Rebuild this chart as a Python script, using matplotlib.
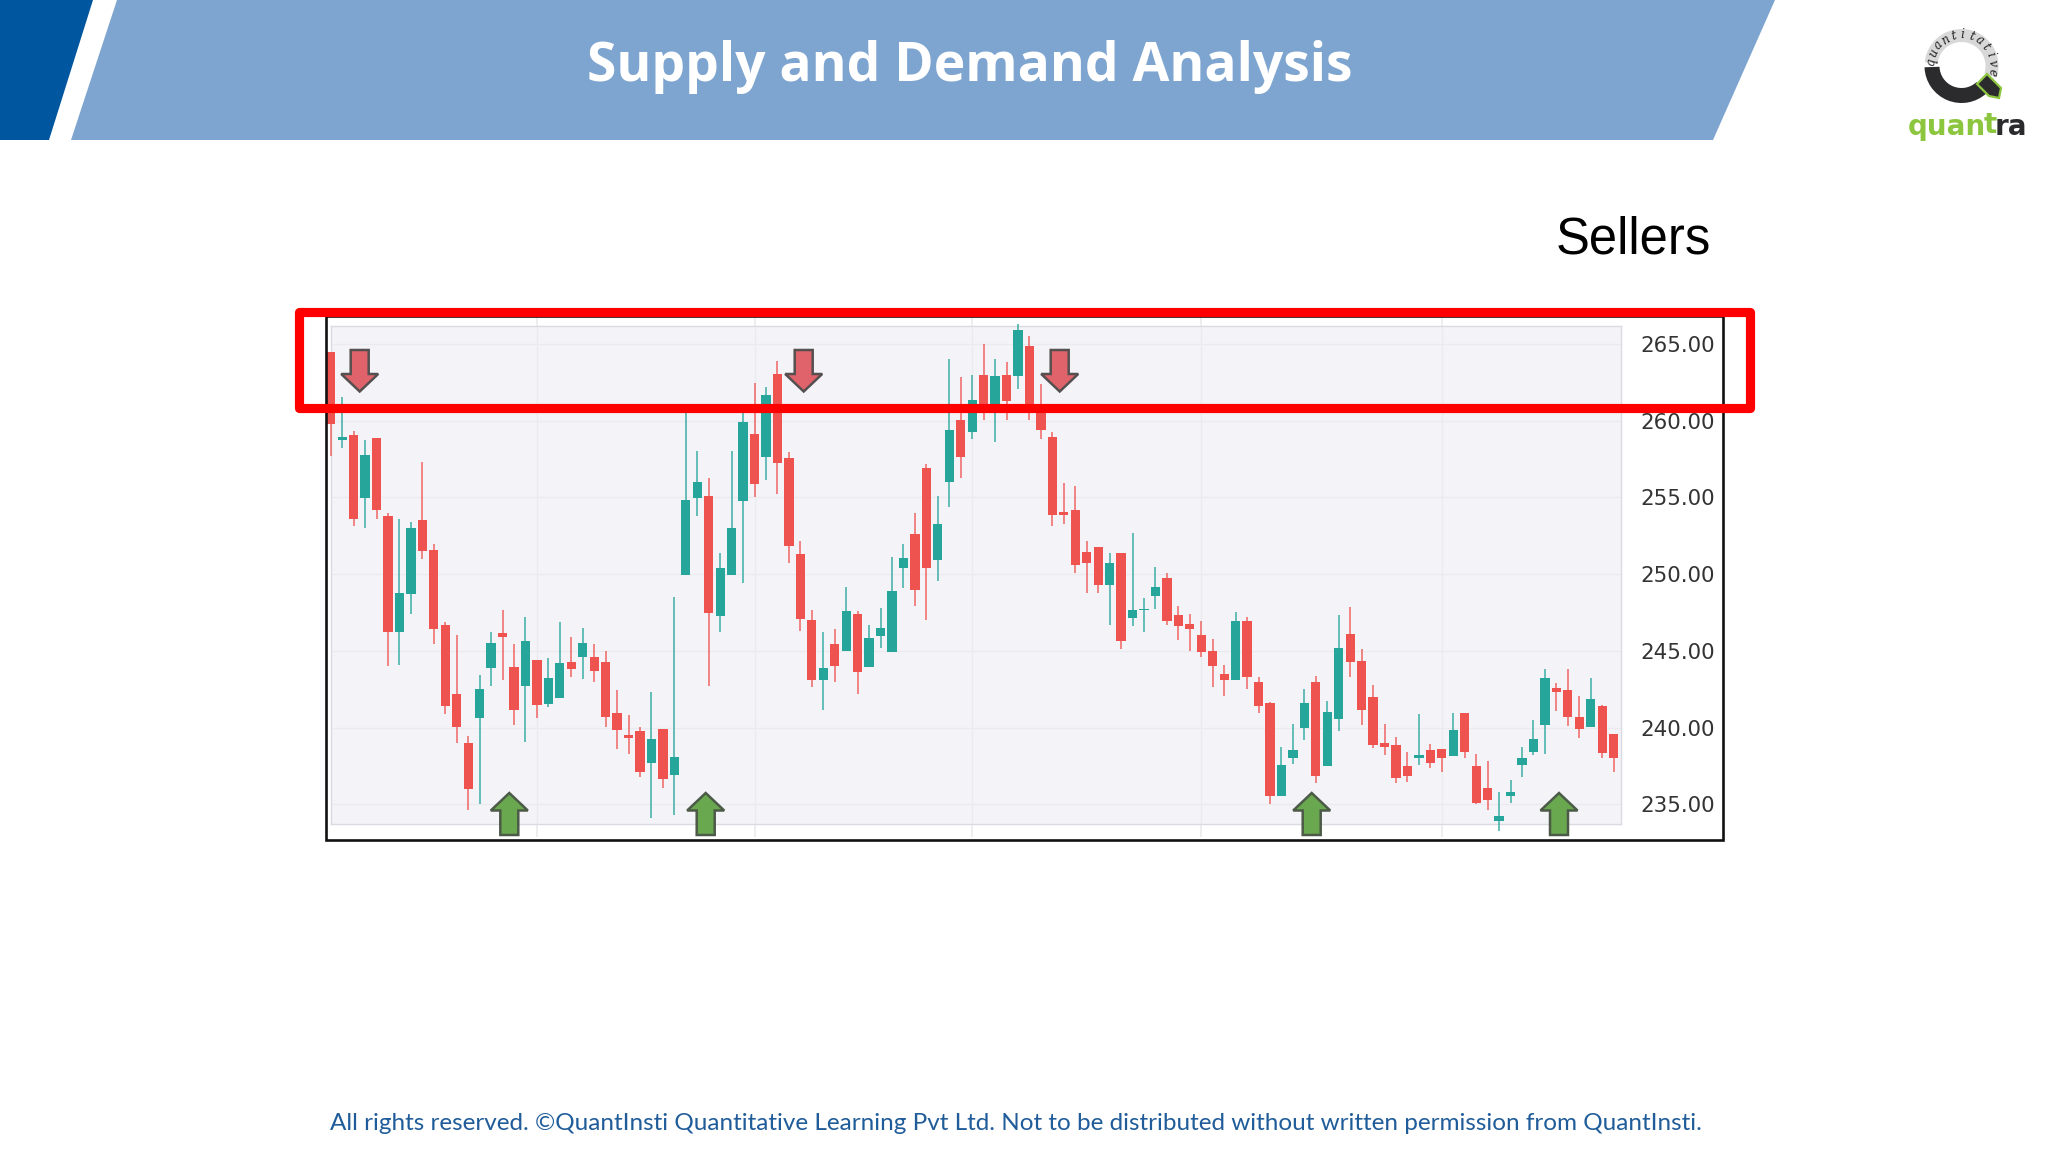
import numpy as np
import matplotlib
matplotlib.use("Agg")
import matplotlib.pyplot as plt
from matplotlib.patches import Polygon, Rectangle, Wedge

# ── Candle data ──────────────────────────────────────────────
opens = [
    264.47, 258.77, 259.07, 254.95, 258.86, 253.80, 246.24, 248.74, 253.55, 251.59,
    246.70, 242.19, 238.97, 240.63, 243.91, 246.15, 243.94, 242.72, 244.42, 241.55,
    241.96, 244.28, 244.58, 244.63, 244.31, 240.97, 239.50, 239.80, 237.69, 239.94,
    236.93, 249.98, 254.95, 255.11, 247.30, 249.98, 254.75, 259.14, 257.64, 263.02,
    257.55, 251.34, 247.00, 243.13, 245.46, 245.00, 247.41, 243.94, 245.96, 244.93,
    250.40, 252.65, 256.93, 250.93, 255.98, 260.03, 259.29, 263.00, 261.09, 263.00,
    262.89, 264.86, 260.98, 258.91, 254.08, 254.21, 251.46, 251.76, 249.27, 251.39,
    247.14, 247.68, 248.61, 249.74, 247.32, 246.77, 246.01, 244.97, 243.50, 243.13,
    246.98, 242.97, 241.60, 235.55, 238.03, 239.96, 242.97, 237.48, 240.58, 246.08,
    244.37, 242.01, 238.97, 238.88, 237.52, 237.99, 238.53, 238.60, 238.17, 240.97,
    237.52, 236.05, 233.94, 235.55, 237.55, 238.44, 240.17, 242.56, 242.47, 240.70,
    240.01, 241.43, 239.57,
]
closes = [
    259.78, 258.91, 253.62, 257.76, 254.17, 246.24, 248.79, 253.00, 251.48, 246.44,
    241.39, 240.01, 236.01, 242.49, 245.52, 245.89, 241.13, 245.66, 241.48, 243.25,
    244.21, 243.82, 245.52, 243.69, 240.72, 239.82, 239.34, 237.14, 239.25, 236.65,
    238.08, 254.86, 256.03, 247.50, 250.42, 253.00, 259.90, 255.85, 261.71, 257.23,
    251.85, 247.07, 243.13, 243.91, 244.03, 247.60, 243.62, 245.87, 246.49, 248.90,
    251.04, 249.00, 250.40, 253.27, 259.41, 257.64, 261.34, 261.07, 262.93, 261.30,
    265.90, 260.49, 259.41, 253.85, 253.85, 250.58, 250.72, 249.27, 250.70, 245.62,
    247.66, 247.76, 249.14, 246.95, 246.65, 246.40, 244.93, 244.03, 243.13, 246.98,
    243.27, 241.39, 235.55, 237.57, 238.53, 241.60, 236.86, 241.04, 245.18, 244.31,
    241.13, 238.84, 238.72, 236.72, 236.86, 238.19, 237.69, 238.03, 239.87, 238.44,
    235.07, 235.27, 234.21, 235.78, 238.01, 239.23, 243.25, 242.33, 240.70, 239.89,
    241.85, 238.33, 238.01,
]
highs = [
    264.47, 261.55, 259.32, 258.72, 258.86, 253.99, 253.62, 253.39, 257.34, 251.96,
    246.88, 246.03, 239.46, 243.46, 246.26, 247.68, 245.46, 247.23, 244.42, 244.56,
    246.91, 245.89, 246.49, 245.46, 244.97, 242.45, 240.84, 240.05, 242.31, 239.94,
    248.52, 260.52, 258.03, 256.24, 251.39, 258.03, 260.63, 262.45, 262.17, 263.90,
    257.99, 252.19, 247.64, 246.24, 246.42, 249.18, 247.60, 246.72, 247.82, 251.09,
    251.96, 254.01, 257.18, 255.11, 264.03, 262.86, 263.00, 265.00, 264.01, 263.83,
    266.31, 265.51, 262.40, 259.25, 255.92, 255.76, 252.19, 251.78, 251.37, 251.39,
    252.67, 248.45, 250.45, 250.06, 247.92, 247.41, 246.95, 245.80, 244.08, 247.55,
    247.18, 243.32, 241.66, 238.74, 240.21, 242.49, 243.39, 241.71, 247.34, 247.87,
    245.11, 242.77, 240.21, 239.36, 238.40, 240.90, 238.95, 238.63, 240.95, 240.97,
    238.26, 237.85, 235.78, 236.60, 238.74, 240.49, 243.80, 242.93, 243.85, 242.05,
    243.22, 241.45, 239.57,
]
lows = [
    257.69, 258.22, 253.16, 253.04, 253.57, 244.01, 244.08, 247.41, 250.97, 245.48,
    240.86, 239.00, 234.65, 235.00, 242.72, 243.13, 240.17, 239.04, 240.63, 241.32,
    241.96, 243.27, 243.18, 242.97, 240.01, 238.63, 238.28, 236.77, 234.08, 236.08,
    234.31, 249.94, 253.80, 242.70, 246.22, 249.94, 249.43, 255.00, 256.15, 255.23,
    250.72, 246.33, 242.65, 241.13, 243.00, 245.00, 242.17, 243.94, 245.16, 244.93,
    249.07, 247.96, 247.00, 249.55, 254.35, 256.26, 258.79, 260.05, 258.61, 260.05,
    262.05, 260.05, 258.79, 253.16, 253.27, 250.06, 248.79, 248.79, 246.72, 245.11,
    246.65, 246.22, 247.71, 246.67, 245.69, 245.00, 244.58, 242.63, 242.03, 243.13,
    242.51, 240.97, 235.00, 235.55, 237.64, 239.20, 236.38, 237.48, 239.75, 243.27,
    240.17, 238.65, 238.22, 236.38, 236.44, 237.57, 237.39, 237.14, 238.12, 238.03,
    235.00, 234.65, 233.27, 235.09, 236.79, 238.24, 238.31, 241.11, 240.08, 239.34,
    240.01, 237.99, 237.11,
]
price_ticks = [235, 240, 245, 250, 255, 260, 265]
date_ticks = [18, 37, 56, 76, 97]

title = "Supply and Demand Analysis"
side_label = "Sellers"
footer = ("All rights reserved. ©QuantInsti Quantitative Learning Pvt Ltd. "
          "Not to be distributed without written permission from QuantInsti.")

# ── Colours ──────────────────────────────────────────────────
UP, DOWN = "#26a69a", "#ef5350"
PANEL, GRID, EDGE = "#f4f4f8", "#ebebef", "#d9dbe1"
W, H = 2048, 1152

fig = plt.figure(figsize=(W / 100, H / 100), dpi=100, facecolor="white")


def px_axes(left, top, right, bottom, **kw):
    return fig.add_axes([left / W, 1 - bottom / H, (right - left) / W, (bottom - top) / H], **kw)


# ── Candlesticks ─────────────────────────────────────────────
ax = px_axes(330.7, 326.4, 1621.3, 824.3, facecolor=PANEL, zorder=1)
x = np.arange(len(opens))
o, c, hi, lo = map(np.array, (opens, closes, highs, lows))
colors = [UP if cl >= op else DOWN for op, cl in zip(o, c)]
ax.vlines(x, lo, hi, colors=colors, linewidth=1.15, alpha=0.85, clip_on=False, zorder=3)
ax.bar(x, np.abs(c - o), bottom=np.minimum(o, c), width=0.81, color=colors,
       linewidth=0, clip_on=False, zorder=4)
ax.set_xlim(0, 112.67)
ax.set_ylim(233.7, 266.15)
ax.yaxis.tick_right()
ax.set_yticks(price_ticks)
ax.set_yticklabels([f"{p:.2f}" for p in price_ticks], fontsize=15.4, color="#333333",
                   family="DejaVu Sans")
ax.tick_params(axis="y", length=0, pad=13.5)
ax.set_xticks(date_ticks)
ax.tick_params(axis="x", length=9, width=1.2, color=GRID, labelbottom=False, top=True)
ax.grid(True, color=GRID, linewidth=1.0)
ax.set_axisbelow(True)
for s in ax.spines.values():
    s.set_color(EDGE)
    s.set_linewidth(1.0)

# ── Slide furniture, pixel coordinates ───────────────────────
ov = fig.add_axes([0, 0, 1, 1], zorder=2, facecolor="none")
ov.set_xlim(0, W)
ov.set_ylim(H, 0)
ov.axis("off")

ov.add_patch(Polygon([(0, 0), (93, 0), (49, 140), (0, 140)], fc="#00569f", ec="none"))
ov.add_patch(Polygon([(117, 0), (1775, 0), (1713, 140), (71, 140)], fc="#7ea5d0", ec="none"))
ov.text(970, 67, title, color="white", fontsize=38.4, fontweight="bold",
        family="Open Sans", ha="center", va="center")
ov.text(1633.5, 240, side_label, color="black", fontsize=36.5, family="Liberation Sans",
        ha="center", va="center")
ov.text(1016, 1124, footer, color="#1f5c99", fontsize=17.5, family="Lato",
        ha="center", va="center")

# black frame around the chart picture
ov.add_patch(Rectangle((326, 316), 1397, 524, fc="none", ec="#111111", lw=1.9, zorder=3))


def down_arrow(cx):
    pts = [(cx - 9, 350), (cx + 9, 350), (cx + 9, 374), (cx + 18.5, 374), (cx, 391.5),
           (cx - 18.5, 374), (cx - 9, 374)]
    ov.add_patch(Polygon(pts, fc="#e0636b", ec="#55504f", lw=1.8, zorder=4))


def up_arrow(cx):
    pts = [(cx, 793), (cx + 18.5, 810.5), (cx + 9, 810.5), (cx + 9, 835), (cx - 9, 835),
           (cx - 9, 810.5), (cx - 18.5, 810.5)]
    ov.add_patch(Polygon(pts, fc="#6aa84f", ec="#4c5a48", lw=1.8, zorder=4))


for cx in [359.7, 803.7, 1059.7]:
    down_arrow(cx)
for cx in [509.3, 705.7, 1311.7, 1559]:
    up_arrow(cx)

# red sellers zone
ov.add_patch(Rectangle((298.5, 311.5), 1451.5, 96, fc="none", ec="#ff0000", lw=6.6,
                       joinstyle="round", zorder=5))

# ── Logo ─────────────────────────────────────────────────────
lx, ly = 1961.5, 66
ov.add_patch(Wedge((lx, ly), 37, 0, 360, width=14, fc="none", ec="none"))
ov.add_patch(Wedge((lx, ly), 37, 0 + 2, 178, width=0.1, fc="none", ec="none"))
# y axis is flipped, so angles run clockwise on screen
ov.add_patch(Wedge((lx, ly), 37, 47, 178, width=15, fc="#2b2b2d", ec="none"))
ov.add_patch(Wedge((lx, ly), 37, 186, 378, width=13, fc="#b9b9b9", ec="none", alpha=0.55))
for ch, ang in zip("quantitative", np.linspace(188, 372, 12)):
    a = np.radians(ang)
    ov.text(lx + 31 * np.cos(a), ly + 31 * np.sin(a), ch, fontsize=8.5, color="#222222",
            rotation=-(ang + 90), ha="center", va="center", family="DejaVu Serif",
            style="italic")
ov.add_patch(Polygon([(1977, 84), (1987, 74), (2001, 88), (1999, 98), (1989, 96)],
                     fc="#2b2b2d", ec="#8cc63f", lw=1.6))
ov.text(1908, 127, "quan", color="#8cc63f", fontsize=20, fontweight="bold",
        family="DejaVu Sans", ha="left", va="center")
ov.text(1984, 125, "t", color="#8cc63f", fontsize=20, fontweight="bold",
        family="DejaVu Sans", ha="left", va="center")
ov.text(1995, 127, "ra", color="#2b2b2d", fontsize=20, fontweight="bold",
        family="DejaVu Sans", ha="left", va="center")

fig.savefig("out.png", dpi=100)
